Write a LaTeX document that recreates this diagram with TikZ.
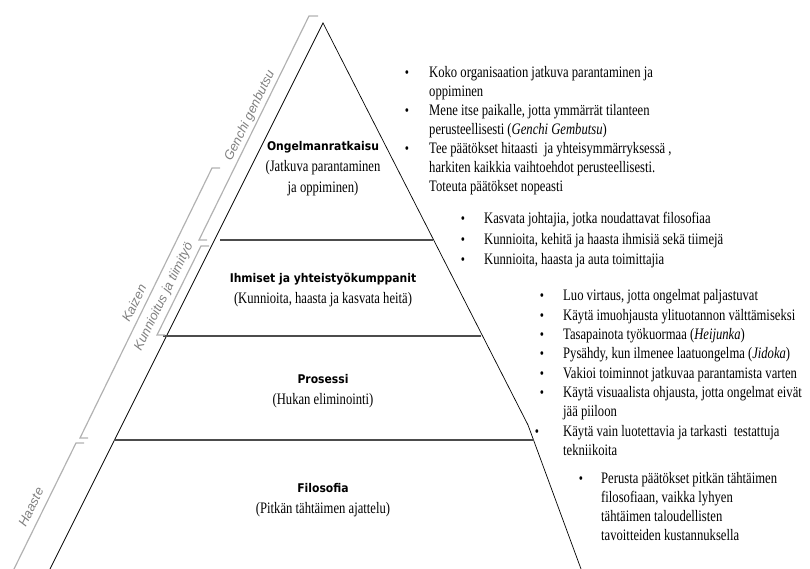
\documentclass[tikz,border=0pt]{standalone}
\usepackage{fontspec}
\setmainfont{Liberation Serif}[FakeStretch=0.79]
\newfontfamily\pyrfont{DejaVu Sans}[FakeStretch=0.9]
\newfontfamily\brfont{Liberation Sans}
\usepackage{tikz}

\begin{document}
\begin{tikzpicture}[x=1pt, y=-1pt,
  txt/.style={anchor=base west, inner sep=0, font=\fontsize{16}{19}\selectfont},
  bul/.style={anchor=base, inner sep=0, font=\fontsize{15}{18}\selectfont},
  head/.style={anchor=base, inner sep=0, font=\pyrfont\bfseries\fontsize{12}{14}\selectfont},
  sub/.style={anchor=base, inner sep=0, font=\fontsize{16}{19}\selectfont},
  brlabel/.style={inner sep=0, rotate=64, text=gray, font=\brfont\itshape\fontsize{13}{15}\selectfont},
  bracket/.style={gray!60, line width=1.2pt},
  level/.style={black!70, line width=1.6pt}]
\useasboundingbox (0,0) rectangle (810,569);
% pyramid
\coordinate (top) at (323,23);
\coordinate (bl) at (50,569);
\coordinate (br) at (581,569);
\draw[line width=0.7pt] (bl) -- (top) -- (528,425) -- (br);
\draw[level] (220,240) -- (433,240);
\draw[level] (163,336) -- (481,336);
\draw[level] (114,440) -- (534,440);
% levels
\node[head] (ong) at (323,151) {Ongelmanratkaisu};
\node[sub] (ong2) at (323,172) {(Jatkuva parantaminen};
\node[sub] (ong3) at (323,193) {ja oppiminen)};
\node[head] (ihm) at (323,282) {Ihmiset ja yhteistyökumppanit};
\node[sub] (ihm2) at (323,303) {(Kunnioita, haasta ja kasvata heitä)};
\node[head] (pro) at (323,383) {Prosessi};
\node[sub] (pro2) at (323,404) {(Hukan eliminointi)};
\node[head] (fil) at (323,492) {Filosofia};
\node[sub] (fil2) at (323,513) {(Pitkän tähtäimen ajattelu)};
% brackets on the left side
\coordinate (g1) at (309,16);
\coordinate (g2) at (199,240);
\coordinate (k1) at (201,246);
\coordinate (k2) at (157,335);
\coordinate (z1) at (212,168);
\coordinate (z2) at (80,438);
\coordinate (h1) at (76,443);
\coordinate (h2) at (14,569);
\draw[bracket] ([xshift=9]g1) -- (g1) -- (g2) -- ([xshift=8]g2);
\draw[bracket] ([xshift=8]k1) -- (k1) -- (k2) -- ([xshift=8]k2);
\draw[bracket] ([xshift=8]z1) -- (z1) -- (z2) -- ([xshift=8]z2);
\draw[bracket] ([xshift=8]h1) -- (h1) -- (h2);
\node[brlabel] (gen) at (250,116) {Genchi genbutsu};
\node[brlabel] (kai) at (134,303) {Kaizen};
\node[brlabel] (kun) at (164,297) {Kunnioitus ja tiimityö};
\node[brlabel] (haa) at (31,507) {Haaste};
% first list
\node[bul] (b1) at (407,78) {•};
\node[txt] (t1) at (429,78) {Koko organisaation jatkuva parantaminen ja};
\node[txt] (t2) at (429,97) {oppiminen};
\node[bul] (b2) at (407,116) {•};
\node[txt] (t3) at (429,116) {Mene itse paikalle, jotta ymmärrät tilanteen};
\node[txt] (t4) at (429,135) {perusteellisesti (\textit{Genchi Gembutsu})};
\node[bul] (b3) at (407,154) {•};
\node[txt] (t5) at (429,154) {Tee päätökset hitaasti~ ja yhteisymmärryksessä ,};
\node[txt] (t6) at (429,173) {harkiten kaikkia vaihtoehdot perusteellisesti.};
\node[txt] (t7) at (429,192) {Toteuta päätökset nopeasti};
% second list
\node[bul] (b4) at (463,224) {•};
\node[txt] (t8) at (484,224) {Kasvata johtajia, jotka noudattavat filosofiaa};
\node[bul] (b5) at (463,244) {•};
\node[txt] (t9) at (484,244) {Kunnioita, kehitä ja haasta ihmisiä sekä tiimejä};
\node[bul] (b6) at (463,264) {•};
\node[txt] (t10) at (484,264) {Kunnioita, haasta ja auta toimittajia};
% third list
\node[bul] (b7) at (542,300) {•};
\node[txt] (t11) at (563,300) {Luo virtaus, jotta ongelmat paljastuvat};
\node[bul] (b8) at (542,320) {•};
\node[txt] (t12) at (563,320) {Käytä imuohjausta ylituotannon välttämiseksi};
\node[bul] (b9) at (542,339) {•};
\node[txt] (t13) at (563,339) {Tasapainota työkuormaa (\textit{Heijunka})};
\node[bul] (b10) at (542,358) {•};
\node[txt] (t14) at (563,358) {Pysähdy, kun ilmenee laatuongelma (\textit{Jidoka})};
\node[bul] (b11) at (542,378) {•};
\node[txt] (t15) at (563,378) {Vakioi toiminnot jatkuvaa parantamista varten};
\node[bul] (b12) at (542,397) {•};
\node[txt] (t16) at (563,397) {Käytä visuaalista ohjausta, jotta ongelmat eivät};
\node[txt] (t17) at (563,416) {jää piiloon};
\node[bul] (b13) at (537,436) {•};
\node[txt] (t18) at (563,436) {Käytä vain luotettavia ja tarkasti~ testattuja};
\node[txt] (t19) at (563,455) {tekniikoita};
% fourth list
\node[bul] (b14) at (581,483) {•};
\node[txt] (t20) at (601,483) {Perusta päätökset pitkän tähtäimen};
\node[txt] (t21) at (601,502) {filosofiaan, vaikka lyhyen};
\node[txt] (t22) at (601,521) {tähtäimen taloudellisten};
\node[txt] (t23) at (601,540) {tavoitteiden kustannuksella};
\end{tikzpicture}
\end{document}
